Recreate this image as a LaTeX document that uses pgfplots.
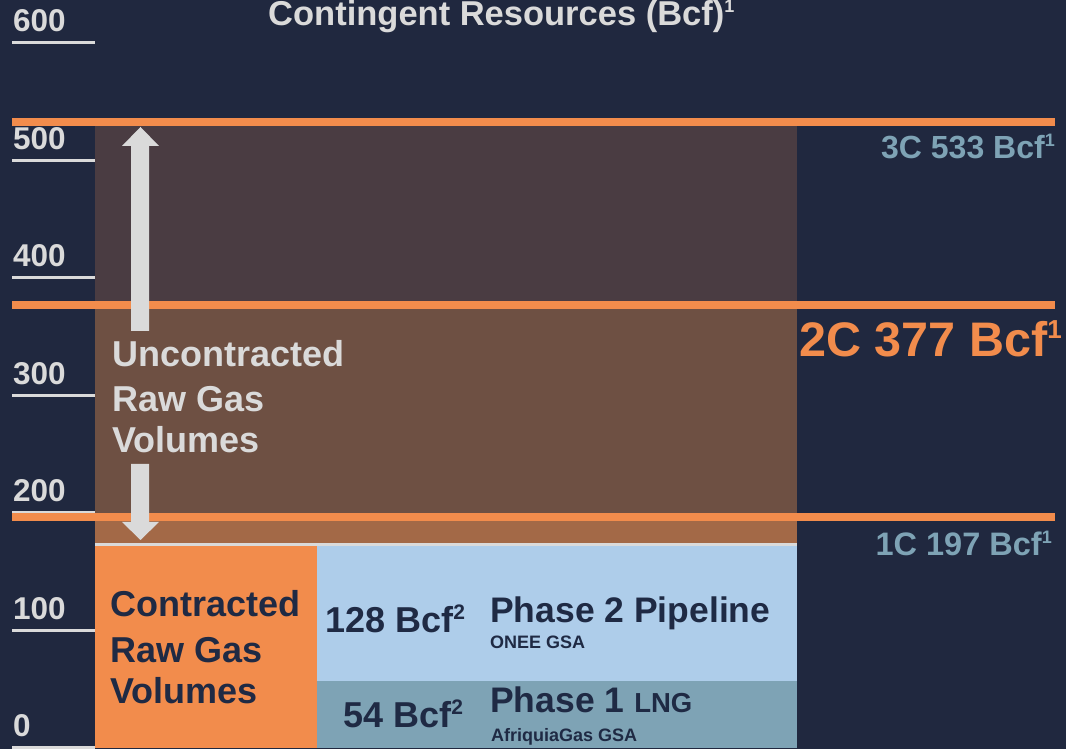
\documentclass[border=0pt]{standalone}
\usepackage{pgfplots}
\pgfplotsset{compat=1.18}
\usepackage{fontspec}
\setmainfont{Liberation Sans}
\definecolor{bgc}{HTML}{20283F}
\definecolor{darkreg}{HTML}{4A3C42}
\definecolor{brownreg}{HTML}{6E5043}
\definecolor{lightbrown}{HTML}{A36947}
\definecolor{orng}{HTML}{F28C4C}
\definecolor{lblue}{HTML}{AECDEA}
\definecolor{steel}{HTML}{7EA3B5}
\definecolor{txtgray}{HTML}{DADADA}
\definecolor{navy}{HTML}{1F2A44}
\newcommand{\fs}[1]{\fontsize{#1}{#1}\selectfont}
\newcommand{\sups}[3]{\raisebox{#2}{\fs{#1}#3}}
\begin{document}
\begin{tikzpicture}[x=1pt,y=1pt]
\useasboundingbox (0,0) rectangle (1066,749);
\clip (0,0) rectangle (1066,749);
\fill[bgc] (0,0) rectangle (1066,749);
\begin{axis}[at={(0,0)},anchor=south west,
  width=1066pt,height=749pt,scale only axis,
  xmin=0,xmax=1066,ymin=-0.851,ymax=636.6,
  hide axis,clip=false]
% regions
\addplot[fill=darkreg,draw=none] coordinates {(95,377) (797,377) (797,533) (95,533)} -- cycle;
\addplot[fill=brownreg,draw=none] coordinates {(95,197) (797,197) (797,377) (95,377)} -- cycle;
\addplot[fill=lightbrown,draw=none] coordinates {(95,173) (797,173) (797,197) (95,197)} -- cycle;
% bars
\addplot[fill=orng,draw=none] coordinates {(95,0) (317,0) (317,173) (95,173)} -- cycle;
\addplot[fill=steel,draw=none] coordinates {(317,0) (797,0) (797,57) (317,57)} -- cycle;
\addplot[fill=lblue,draw=none] coordinates {(317,57) (797,57) (797,173) (317,173)} -- cycle;
\addplot[color=txtgray,line width=2.5pt] coordinates {(95,173) (797,173)};
% tick underlines
\foreach \v in {0,100,...,600}{
  \edef\tmp{\noexpand\draw[txtgray,line width=3pt] (axis cs:12,\v) -- (axis cs:95,\v);}
  \tmp
  \edef\tmp{\noexpand\node[anchor=base west,inner sep=0pt,text=txtgray,font=\noexpand\fs{31.5}\noexpand\bfseries] at (axis cs:13,\v+9.4) {\v};}
  \tmp
}
% orange lines
\addplot[color=orng,line width=8pt] coordinates {(12,533) (1055,533)};
\addplot[color=orng,line width=8pt] coordinates {(12,377) (1055,377)};
\addplot[color=orng,line width=8pt] coordinates {(12,197) (1055,197)};
\end{axis}
% arrows
\fill[txtgray] (122,749-146) -- (140.5,749-127) -- (159,749-146) -- (149,749-146) -- (149,749-331) -- (131,749-331) -- (131,749-146) -- cycle;
\fill[txtgray] (131,749-464) -- (149,749-464) -- (149,749-522) -- (159,749-522) -- (140.5,749-540) -- (122,749-522) -- (131,749-522) -- cycle;
% title
\node[anchor=base west,inner sep=0pt,text=txtgray,font=\fs{34.5}\bfseries] at (268,749-26) {Contingent Resources (Bcf)\sups{18}{13pt}{1}};
% right labels
\node[anchor=base east,inner sep=0pt,text=steel,font=\fs{32}\bfseries] at (1055,749-159) {3C 533 Bcf\sups{18}{12pt}{1}};
\node[anchor=base east,inner sep=0pt,text=orng,font=\fs{48.5}\bfseries] at (1062,749-357) {2C 377 Bcf\sups{26}{18pt}{1}};
\node[anchor=base east,inner sep=0pt,text=steel,font=\fs{32.5}\bfseries] at (1052,749-556) {1C 197 Bcf\sups{18}{12pt}{1}};
% uncontracted
\node[anchor=base west,inner sep=0pt,text=txtgray,font=\fs{36}\bfseries] at (112,749-367) {Uncontracted};
\node[anchor=base west,inner sep=0pt,text=txtgray,font=\fs{36}\bfseries] at (112,749-412) {Raw Gas};
\node[anchor=base west,inner sep=0pt,text=txtgray,font=\fs{36}\bfseries] at (112,749-453) {Volumes};
% contracted
\node[anchor=base west,inner sep=0pt,text=navy,font=\fs{36}\bfseries] at (110,749-617) {Contracted};
\node[anchor=base west,inner sep=0pt,text=navy,font=\fs{36}\bfseries] at (110,749-663) {Raw Gas};
\node[anchor=base west,inner sep=0pt,text=navy,font=\fs{36}\bfseries] at (110,749-704) {Volumes};
% phases
\node[anchor=base west,inner sep=0pt,text=navy,font=\fs{36}\bfseries] at (325,749-633) {128 Bcf\sups{21}{13pt}{2}};
\node[anchor=base west,inner sep=0pt,text=navy,font=\fs{35.5}\bfseries] at (490,749-623) {Phase 2 Pipeline};
\node[anchor=base west,inner sep=0pt,text=navy,font=\fs{18}\bfseries] at (490,749-649) {ONEE GSA};
\node[anchor=base west,inner sep=0pt,text=navy,font=\fs{36}\bfseries] at (343,749-728) {54 Bcf\sups{21}{13pt}{2}};
\node[anchor=base west,inner sep=0pt,text=navy,font=\fs{35.5}\bfseries] at (490,749-713) {Phase 1 {\fs{27.5}LNG}};
\node[anchor=base west,inner sep=0pt,text=navy,font=\fs{18}\bfseries] at (491,749-742) {AfriquiaGas GSA};
\end{tikzpicture}
\end{document}
